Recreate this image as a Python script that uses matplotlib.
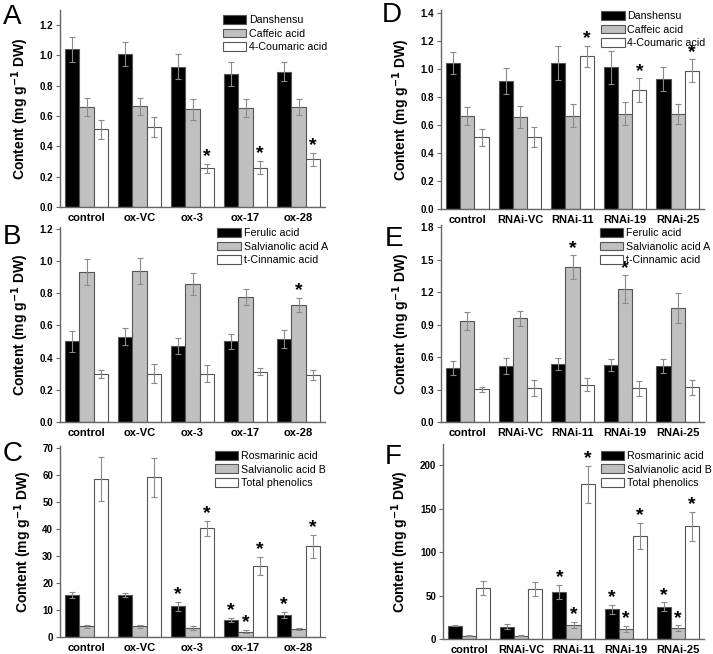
import numpy as np
import matplotlib
matplotlib.use('Agg')
import matplotlib.pyplot as plt
from matplotlib.patches import Patch

plt.rcParams['font.family'] = ['Liberation Sans', 'DejaVu Sans']

ox_lines = ['control', 'ox-VC', 'ox-3', 'ox-17', 'ox-28']
rnai_lines = ['control', 'RNAi-VC', 'RNAi-11', 'RNAi-19', 'RNAi-25']

# panel A / D : Danshensu, Caffeic acid, 4-Coumaric acid
labels_ad = ['Danshensu', 'Caffeic acid', '4-Coumaric acid']
a_means = [[1.04, 1.01, 0.927, 0.877, 0.892],
           [0.66, 0.665, 0.644, 0.653, 0.657],
           [0.512, 0.53, 0.255, 0.26, 0.314]]
a_err = [[0.08, 0.08, 0.08, 0.077, 0.062],
         [0.06, 0.055, 0.07, 0.057, 0.053],
         [0.06, 0.065, 0.028, 0.045, 0.044]]
a_star = [[0, 0, 0, 0, 0], [0, 0, 0, 0, 0], [0, 0, 1, 1, 1]]

d_means = [[1.043, 0.914, 1.043, 1.01, 0.93],
           [0.664, 0.657, 0.667, 0.68, 0.68],
           [0.512, 0.512, 1.09, 0.848, 0.988]]
d_err = [[0.08, 0.095, 0.12, 0.12, 0.085],
         [0.064, 0.08, 0.08, 0.08, 0.07],
         [0.06, 0.07, 0.075, 0.085, 0.08]]
d_star = [[0, 0, 0, 0, 0], [0, 0, 0, 0, 0], [0, 0, 1, 1, 1]]

# panel B / E : Ferulic acid, Salvianolic acid A, t-Cinnamic acid
labels_be = ['Ferulic acid', 'Salvianolic acid A', 't-Cinnamic acid']
b_means = [[0.50, 0.529, 0.471, 0.50, 0.515],
           [0.932, 0.938, 0.857, 0.778, 0.727],
           [0.297, 0.30, 0.30, 0.313, 0.29]]
b_err = [[0.064, 0.054, 0.052, 0.048, 0.054],
         [0.08, 0.08, 0.068, 0.05, 0.042],
         [0.025, 0.058, 0.054, 0.02, 0.03]]
b_star = [[0, 0, 0, 0, 0], [0, 0, 0, 0, 1], [0, 0, 0, 0, 0]]

e_means = [[0.502, 0.515, 0.533, 0.524, 0.518],
           [0.934, 0.959, 1.433, 1.23, 1.054],
           [0.302, 0.311, 0.342, 0.311, 0.32]]
e_err = [[0.065, 0.074, 0.055, 0.055, 0.062],
         [0.08, 0.07, 0.108, 0.126, 0.14],
         [0.025, 0.074, 0.06, 0.068, 0.068]]
e_star = [[0, 0, 0, 0, 0], [0, 0, 1, 1, 0], [0, 0, 0, 0, 0]]

# panel C / F : Rosmarinic acid, Salvianolic acid B, Total phenolics
labels_cf = ['Rosmarinic acid', 'Salvianolic acid B', 'Total phenolics']
c_means = [[15.5, 15.5, 11.3, 6.2, 8.2],
           [4.0, 4.0, 3.3, 2.0, 3.0],
           [58.5, 59.0, 40.2, 26.4, 33.5]]
c_err = [[1.2, 0.8, 1.7, 0.8, 1.0],
         [0.5, 0.5, 0.8, 0.7, 0.4],
         [8.2, 7.3, 2.8, 3.3, 4.3]]
c_star = [[0, 0, 1, 1, 1], [0, 0, 0, 1, 0], [0, 0, 1, 1, 1]]

f_means = [[15.5, 14.2, 54.0, 34.0, 37.3],
           [4.0, 4.0, 16.5, 11.5, 12.7],
           [58.5, 58.0, 178.0, 119.0, 129.6]]
f_err = [[1.0, 3.0, 8.0, 5.0, 5.0],
         [0.5, 0.5, 3.5, 4.0, 3.0],
         [8.0, 8.0, 21.0, 15.0, 17.0]]
f_star = [[0, 0, 1, 1, 1], [0, 0, 1, 1, 1], [0, 0, 1, 1, 1]]

fills = ['black', '#c0c0c0', 'white']


def draw_panel(ax, groups, means, errs, stars, labels, ylim, yticks, fmt, leg_x, leg_y):
    x = np.arange(len(groups))
    w = 0.27
    for i in range(3):
        xs = x + (i - 1) * w
        ax.bar(xs, means[i], w, color=fills[i], edgecolor='#555555', linewidth=0.8)
        ax.errorbar(xs, means[i], yerr=errs[i], fmt='none', ecolor='#8a8a8a',
                    elinewidth=0.8, capsize=2.5, capthick=0.8)
        for j in range(len(groups)):
            if stars[i][j]:
                ax.annotate('*', (xs[j], means[i][j] + errs[i][j]), xytext=(0, -1),
                            textcoords='offset points', ha='center', va='bottom',
                            fontsize=14, fontweight='bold')
    ax.set_xlim(-0.5, 4.5)
    ax.set_ylim(*ylim)
    ax.set_yticks(yticks)
    ax.set_yticklabels([fmt.format(t) for t in yticks], fontsize=7, fontweight='bold')
    ax.set_xticks(x)
    ax.set_xticklabels(groups, fontsize=8, fontweight='bold')
    ax.tick_params(axis='x', length=0, pad=4)
    ax.tick_params(axis='y', length=3, width=0.8, color='#666666', pad=2)
    for s in ['top', 'right']:
        ax.spines[s].set_visible(False)
    for s in ['left', 'bottom']:
        ax.spines[s].set_color('#666666')
        ax.spines[s].set_linewidth(1.0)
    ax.set_ylabel('Content (mg g$^{\\mathbf{-1}}$ DW)', fontsize=10, fontweight='bold', labelpad=6)
    handles = [Patch(facecolor=fills[i], edgecolor='#555555', linewidth=0.8) for i in range(3)]
    ax.legend(handles, labels, loc='upper left', bbox_to_anchor=(leg_x, leg_y), frameon=False,
              fontsize=7.7, handlelength=2.2, handleheight=0.9, handletextpad=0.25,
              labelspacing=0.32, borderpad=0.1, borderaxespad=0)


fig = plt.figure(figsize=(7.13, 6.54), dpi=100)
W, H = 713.0, 654.0


def axes_px(x0, x1, ytop, ybot):
    return fig.add_axes([x0 / W, 1 - ybot / H, (x1 - x0) / W, (ybot - ytop) / H])


axA = axes_px(60, 325, 10, 207)
axB = axes_px(60, 325, 227, 422)
axC = axes_px(60, 325, 446, 637)
axD = axes_px(441, 704, 10, 209)
axE = axes_px(441, 704, 225, 422)
axF = axes_px(443, 704, 444, 639)

draw_panel(axA, ox_lines, a_means, a_err, a_star, labels_ad, (0, 1.3),
           np.arange(0, 1.21, 0.2), '{:.1f}', 0.61, 0.98)
draw_panel(axB, ox_lines, b_means, b_err, b_star, labels_be, (0, 1.21),
           np.arange(0, 1.21, 0.2), '{:.1f}', 0.59, 1.0)
draw_panel(axC, ox_lines, c_means, c_err, c_star, labels_cf, (0, 70.6),
           np.arange(0, 71, 10), '{:.0f}', 0.58, 0.98)
draw_panel(axD, rnai_lines, d_means, d_err, d_star, labels_ad, (0, 1.42),
           np.arange(0, 1.41, 0.2), '{:.1f}', 0.605, 1.0)
draw_panel(axE, rnai_lines, e_means, e_err, e_star, labels_be, (0, 1.82),
           np.arange(0, 1.81, 0.3), '{:.1f}', 0.6, 0.99)
draw_panel(axF, rnai_lines, f_means, f_err, f_star, labels_cf, (0, 224.5),
           np.arange(0, 201, 50), '{:.0f}', 0.6, 0.97)

for letter, px, py in [('A', 3, 4), ('B', 3, 224), ('C', 3, 441),
                       ('D', 382, 2), ('E', 385, 226), ('F', 385, 444)]:
    fig.text(px / W, 1 - py / H, letter, fontsize=20, ha='left', va='top')

fig.savefig('out.png', dpi=100)
